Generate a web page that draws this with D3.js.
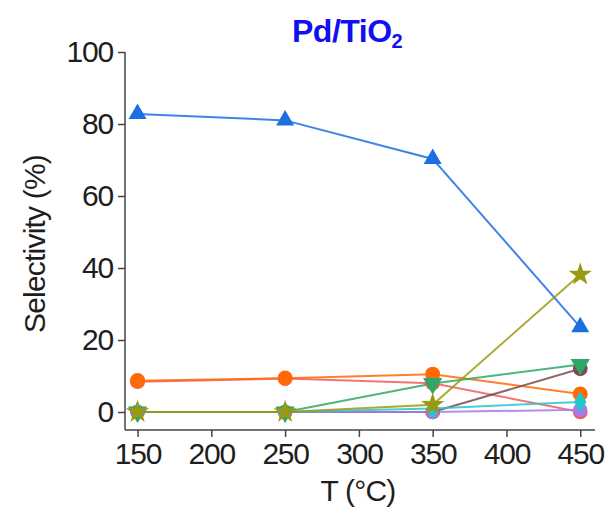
<!DOCTYPE html>
<html>
<head>
<meta charset="utf-8">
<script src="https://cdn.jsdelivr.net/npm/d3@7"></script>
<style>
  html, body { margin: 0; padding: 0; background: #fff; }
  svg { display: block; font-family: "Liberation Sans", Arial, sans-serif; }
</style>
</head>
<body>
<svg id="chart" width="610" height="509"></svg>
<script>
// Reaction temperatures (°C)
const temperatures = [150, 250, 350, 450];

// Product selectivities (%) at each temperature
const seriesBlue   = [82.8, 81.0, 70.3, 23.6];
const seriesRed    = [8.4, 9.3, 8.0, 0.0];
const seriesOrange = [8.7, 9.4, 10.5, 5.0];
const seriesBrown  = [0.0, 0.0, 0.0, 12.0];
const seriesPurple = [0.0, 0.0, 0.0, 0.6];
const seriesCyan   = [0.0, 0.0, 1.0, 2.8];
const seriesGreen  = [0.0, 0.0, 7.9, 13.2];
const seriesOlive  = [0.0, 0.0, 2.0, 38.2];

const xTicks = [150, 200, 250, 300, 350, 400, 450];
const yTicks = [0, 20, 40, 60, 80, 100];

// Drawing order (later series on top)
const series = [
  { values: seriesBlue,   color: "#1b6fe0", symbol: d3.symbolTriangle, size: 140, rot: 0 },
  { values: seriesRed,    color: "#f25a5a", symbol: d3.symbolCircle,   size: 170, rot: 0 },
  { values: seriesOrange, color: "#ff6a06", symbol: d3.symbolCircle,   size: 180, rot: 0 },
  { values: seriesBrown,  color: "#7a4b4f", symbol: d3.symbolCircle,   size: 170, rot: 0 },
  { values: seriesPurple, color: "#a77be6", symbol: d3.symbolCircle,   size: 160, rot: 0 },
  { values: seriesCyan,   color: "#22c7cc", symbol: d3.symbolDiamond,  size: 130, rot: 0 },
  { values: seriesGreen,  color: "#2fa866", symbol: d3.symbolTriangle, size: 160, rot: 180 },
  { values: seriesOlive,  color: "#9a9a12", symbol: d3.symbolStar,     size: 170, rot: 0 }
];

const svg = d3.select("#chart");
const plotLeft = 125, plotRight = 595, plotTop = 52, plotBottom = 430;

const x = d3.scaleLinear().domain([141.5, 460]).range([plotLeft, plotRight]);
const y = d3.scaleLinear().domain([-5, 100]).range([plotBottom, plotTop]);

const axisColor = "#444";
const textColor = "#1e1e1e";

// Y axis with major and minor ticks
const yAxisG = svg.append("g").attr("transform", `translate(${plotLeft},0)`);
yAxisG.append("line")
  .attr("x1", 0).attr("x2", 0).attr("y1", y(100)).attr("y2", plotBottom)
  .attr("stroke", axisColor).attr("stroke-width", 1.5);
yAxisG.call(
  d3.axisLeft(y).tickValues([10, 30, 50, 70, 90]).tickSize(4).tickFormat("")
).call(g => g.select(".domain").remove());
yAxisG.call(
  d3.axisLeft(y).tickValues(yTicks).tickSize(7).tickPadding(5).tickFormat(d3.format("d"))
).call(g => g.select(".domain").remove());
yAxisG.selectAll(".tick line").attr("stroke", axisColor).attr("stroke-width", 1.5);
yAxisG.selectAll(".tick text")
  .attr("font-size", 30).attr("fill", textColor).attr("font-family", "Liberation Sans, Arial, sans-serif")
  .attr("letter-spacing", -1.2);

// X axis with major and minor ticks
const xAxisG = svg.append("g").attr("transform", `translate(0,${plotBottom})`);
xAxisG.append("line")
  .attr("x1", plotLeft).attr("x2", plotRight).attr("y1", 0).attr("y2", 0)
  .attr("stroke", axisColor).attr("stroke-width", 1.5);
xAxisG.call(
  d3.axisBottom(x).tickValues([175, 225, 275, 325, 375, 425]).tickSize(4).tickFormat("")
).call(g => g.select(".domain").remove());
xAxisG.call(
  d3.axisBottom(x).tickValues(xTicks).tickSize(7).tickPadding(6).tickFormat(d3.format("d"))
).call(g => g.select(".domain").remove());
xAxisG.selectAll(".tick line").attr("stroke", axisColor).attr("stroke-width", 1.5);
xAxisG.selectAll(".tick text")
  .attr("font-size", 30).attr("fill", textColor).attr("font-family", "Liberation Sans, Arial, sans-serif")
  .attr("letter-spacing", -1.2);

// Axis titles
svg.append("text")
  .attr("x", (plotLeft + plotRight) / 2 - 2).attr("y", 501)
  .attr("text-anchor", "middle").attr("font-size", 30).attr("fill", textColor)
  .attr("letter-spacing", -0.8)
  .text("T (°C)");

svg.append("text")
  .attr("transform", `translate(45,${(y(100) + plotBottom) / 2 + 3}) rotate(-90)`)
  .attr("text-anchor", "middle").attr("font-size", 30).attr("fill", textColor)
  .attr("letter-spacing", -0.8)
  .text("Selectivity (%)");

// Title
const title = svg.append("text")
  .attr("x", 292).attr("y", 42)
  .attr("font-size", 32).attr("font-weight", "bold").attr("fill", "#1010f0")
  .attr("letter-spacing", -0.5);
title.append("tspan").text("Pd/TiO");
title.append("tspan").attr("font-size", 20).attr("dy", 6).text("2");

// Lines then markers for each series
const line = d3.line().x((d, i) => x(temperatures[i])).y(d => y(d));
const plot = svg.append("g");

series.forEach(s => {
  plot.append("path")
    .datum(s.values)
    .attr("d", line)
    .attr("fill", "none")
    .attr("stroke", s.color)
    .attr("stroke-width", 2)
    .attr("opacity", 0.85);
});

series.forEach(s => {
  plot.selectAll(null)
    .data(s.values)
    .join("path")
    .attr("d", d3.symbol().type(s.symbol).size(s.size))
    .attr("transform", (d, i) => `translate(${x(temperatures[i])},${y(d)}) rotate(${s.rot})`)
    .attr("fill", s.color);
});
</script>
</body>
</html>
